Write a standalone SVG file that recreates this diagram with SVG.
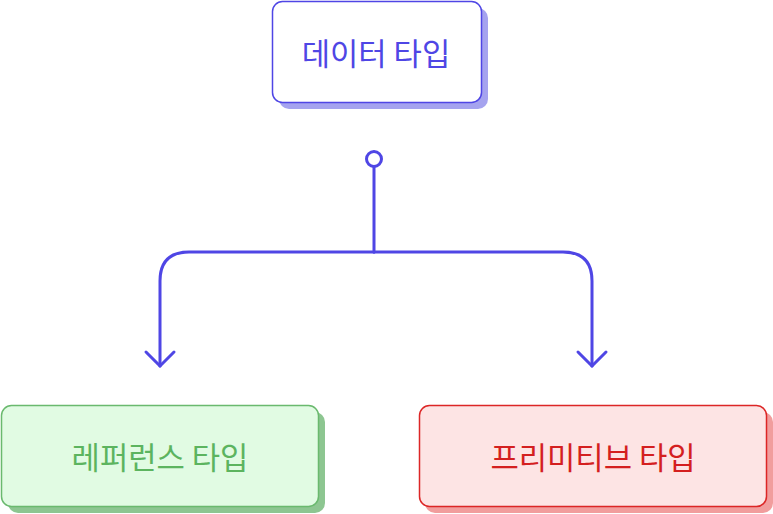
<svg xmlns="http://www.w3.org/2000/svg" width="773" height="514" viewBox="0 0 773 514">
<style>
.lbl{font-family:"Noto Sans CJK KR","Noto Sans",sans-serif;font-size:30.8px;text-anchor:middle;dominant-baseline:central}
.conn{fill:none;stroke:#4f46e5;stroke-width:3;stroke-linecap:round;stroke-linejoin:round}
</style>
<g id="node-data">
<rect x="279" y="8" width="209" height="101" rx="10" fill="#a5a3ef"/>
<rect x="272.5" y="1.5" width="209" height="101" rx="10" fill="#ffffff" stroke="#4f46e5" stroke-width="1.5"/>
<text class="lbl" x="376" y="51" fill="#4f46e5">데이터 타입</text>
</g>
<g id="node-ref">
<rect x="8" y="412" width="317" height="101" rx="10" fill="#8dc691"/>
<rect x="1.5" y="405.5" width="317" height="101" rx="10" fill="#e1fbe3" stroke="#6ab96e" stroke-width="1.5"/>
<text class="lbl" x="160" y="455" fill="#5cb45f">레퍼런스 타입</text>
</g>
<g id="node-prim">
<rect x="425" y="412" width="348" height="101" rx="10" fill="#f19d9d"/>
<rect x="419.5" y="405.5" width="347" height="101" rx="10" fill="#fde4e4" stroke="#dc2626" stroke-width="1.5"/>
<text class="lbl" x="593" y="455" fill="#d41f1f">프리미티브 타입</text>
</g>
<g id="connectors">
<circle cx="374" cy="159" r="7.5" fill="#ffffff" stroke="#4f46e5" stroke-width="3"/>
<path class="conn" d="M374 166.5 V252"/>
<path class="conn" d="M374 252 H189 Q160 252 160 281 V366"/>
<path class="conn" d="M374 252 H563 Q592 252 592 281 V366"/>
<path class="conn" d="M146 352 L160 366 L174 352"/>
<path class="conn" d="M578 352 L592 366 L606 352"/>
</g>
</svg>
